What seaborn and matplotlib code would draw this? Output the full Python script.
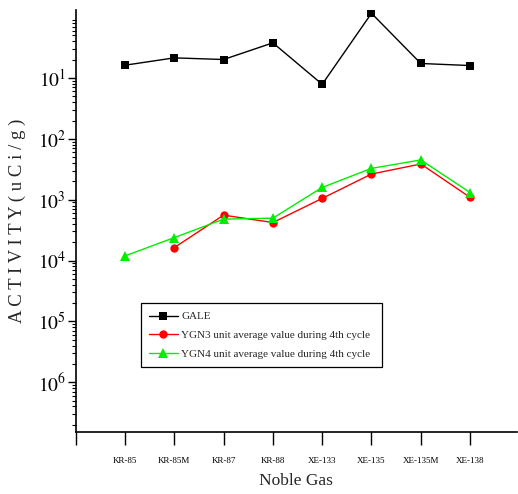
import numpy as np
import pandas as pd
import matplotlib
matplotlib.use("Agg")
import matplotlib.pyplot as plt
import matplotlib.ticker as mticker
import seaborn as sns

categories = ["KR-85", "KR-85M", "KR-87", "KR-88", "XE-133", "XE-135", "XE-135M", "XE-138"]
gale = [0.162, 0.214, 0.201, 0.378, 0.0787, 1.156, 0.173, 0.160]
ygn3 = [np.nan, 1.63e-4, 5.57e-4, 4.21e-4, 1.05e-3, 2.64e-3, 3.86e-3, 1.09e-3]
ygn4 = [1.19e-4, 2.38e-4, 4.79e-4, 4.97e-4, 1.59e-3, 3.27e-3, 4.50e-3, 1.31e-3]
series_names = ["GALE", "YGN3 unit average value during 4th cycle",
                "YGN4 unit average value during 4th cycle"]
ytick_values = [1e-1, 1e-2, 1e-3, 1e-4, 1e-5, 1e-6]
ytick_labels = ["$10^{1}$", "$10^{2}$", "$10^{3}$", "$10^{4}$", "$10^{5}$", "$10^{6}$"]

sns.set_theme(style="ticks")
plt.rcParams["font.family"] = ["Liberation Serif", "DejaVu Serif"]
plt.rcParams["mathtext.fontset"] = "stix"

fig = plt.figure(figsize=(5.18, 4.94), dpi=100)
ax = fig.add_axes([0.146, 0.1265, 0.852, 0.8533])

df = pd.DataFrame({"gas": categories, "g": gale, "y3": ygn3, "y4": ygn4})
styles = [("g", "black", "s", 6), ("y3", "#ff0000", "o", 6), ("y4", "#00ee00", "^", 7)]
for (col, color, mk, ms), name in zip(styles, series_names):
    sns.lineplot(data=df, x="gas", y=col, ax=ax, color=color, marker=mk,
                 markersize=ms, markeredgewidth=0, linewidth=1.0,
                 sort=False, label=name)

ax.set_yscale("log")
ax.set_ylim(1.55e-7, 1.31)
ax.set_yticks(ytick_values)
ax.set_yticklabels(ytick_labels, fontsize=14)
ax.yaxis.set_minor_locator(mticker.LogLocator(base=10, subs=np.arange(2, 10)))
ax.yaxis.set_minor_formatter(mticker.NullFormatter())

ax.set_xlim(-1, 7.95)
ax.set_xticks(range(-1, len(categories)))
ax.set_xticklabels([""] + categories, fontsize=6.5)

ax.tick_params(axis="y", which="major", direction="out", length=6, width=1, pad=1, colors="black")
ax.tick_params(axis="y", which="minor", direction="out", length=3, width=0.8, colors="black")
ax.tick_params(axis="x", which="major", direction="out", length=9, width=1, pad=9, colors="black")

for s in ["top", "right"]:
    ax.spines[s].set_visible(False)
for s in ["left", "bottom"]:
    ax.spines[s].set_color("black")
    ax.spines[s].set_linewidth(1.2)

ax.set_xlabel("Noble Gas", fontsize=12.5, labelpad=6)
ax.set_ylabel("A C T I V I T Y ( u C i / g )", fontsize=13.5, labelpad=8)

leg = ax.legend(loc="upper left", bbox_to_anchor=(0.147, 0.150, 0.547, 0.154),
                mode="expand", borderaxespad=0, fontsize=8, frameon=True,
                fancybox=False, framealpha=1, edgecolor="black", handlelength=2.6,
                labelspacing=0.8, borderpad=0.75, handletextpad=0.3)
leg.get_frame().set_linewidth(0.9)

fig.savefig("out.png", dpi=100)
